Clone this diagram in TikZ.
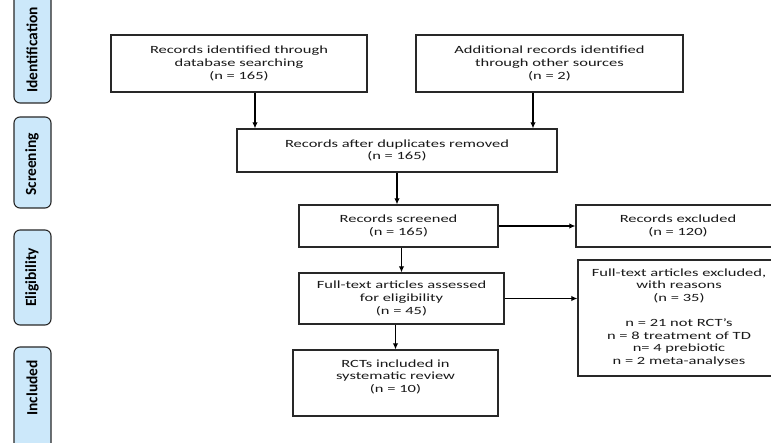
\documentclass[tikz,border=0pt]{standalone}
\usepackage{fontspec}
\setmainfont{Carlito}
\newfontfamily\boxfont[FakeStretch=1.5]{Carlito}
\newfontfamily\tabfont{Carlito}
\usetikzlibrary{arrows.meta}
\definecolor{tabblue}{RGB}{204,232,250}
\definecolor{edgecol}{RGB}{40,40,40}
\tikzset{
 box/.style={draw=edgecol, line width=1.3pt, inner sep=0pt},
 txt/.style={align=center, font=\boxfont\fontsize{11}{12.6}\selectfont, inner sep=0pt, text=black!90},
 tab/.style={draw=edgecol, line width=1.1pt, fill=tabblue, rounded corners=6pt, inner sep=0pt},
 tablabel/.style={rotate=90, font=\tabfont\bfseries\fontsize{15.5}{16}\selectfont, inner sep=0pt},
 arr/.style={draw=black, line width=1.2pt, -{Latex[length=6pt,width=5.5pt]}},
}
\begin{document}
\begin{tikzpicture}[x=1pt,y=-1pt]
\useasboundingbox (0,0) rectangle (771,443);
\clip (0,0) rectangle (771,443);
\fill[white] (0,0) rectangle (771,443);
% stage tabs
\node[tab, minimum width=37pt, minimum height=113pt] (tab1) at (32.5,46.5) {};
\node[tablabel] (lab1) at (32,50) {Identification};
\node[tab, minimum width=37pt, minimum height=91pt] (tab2) at (32.5,162.5) {};
\node[tablabel] (lab2) at (32,164.5) {Screening};
\node[tab, minimum width=37pt, minimum height=95pt] (tab3) at (32.5,277.5) {};
\node[tablabel] (lab3) at (32,277.5) {Eligibility};
\node[tab, minimum width=37pt, minimum height=113pt] (tab4) at (32.5,403.5) {};
\node[tablabel] (lab4) at (32,388) {Included};
% boxes
\node[box, txt, minimum width=256pt, minimum height=57pt] (b1) at (239,63.5)
  {Records identified through\\database searching\\(n = 165)};
\node[box, txt, minimum width=267pt, minimum height=57pt] (b2) at (549.5,63.5)
  {Additional records identified\\through other sources\\(n = 2)};
\node[box, txt, minimum width=320pt, minimum height=43pt] (b3) at (397,150.5)
  {Records after duplicates removed\\(n = 165)};
\node[box, txt, minimum width=199pt, minimum height=42pt] (b4) at (398.5,226)
  {Records screened\\(n = 165)};
\node[box, txt, minimum width=204pt, minimum height=42pt] (b7) at (678,226)
  {Records excluded\\(n = 120)};
\node[box, txt, minimum width=205pt, minimum height=51pt] (b5) at (401.5,298.5)
  {Full-text articles assessed\\for eligibility\\(n = 45)};
\node[box, minimum width=205pt, minimum height=66pt] (b6) at (395.5,383) {};
\node[txt, anchor=north] (t6) at (395.5,359.5)
  {RCTs included in\\systematic review\\(n = 10)};
\node[box, minimum width=202pt, minimum height=116pt] (b8) at (679,318) {};
\node[txt, anchor=north] (t8) at (679,268.5)
  {Full-text articles excluded,\\with reasons\\(n = 35)\\[12.6pt]n = 21 not RCT’s\\n = 8 treatment of TD\\n= 4 prebiotic\\n = 2 meta-analyses};
% connectors
\draw[arr] ([xshift=16pt]b1.south) -- ([xshift=16pt]b1.south |- b3.north);
\draw[arr] ([xshift=-16.5pt]b2.south) -- ([xshift=-16.5pt]b2.south |- b3.north);
\draw[arr] (b3.south) -- (b3.south |- b4.north);
\draw[arr] (b4.east) -- (b7.west);
\draw[arr] (b5.north |- b4.south) -- (b5.north);
\draw[arr] (b6.north |- b5.south) -- (b6.north);
\draw[arr] (b5.east) -- (b5.east -| b8.west);
\end{tikzpicture}
\end{document}
